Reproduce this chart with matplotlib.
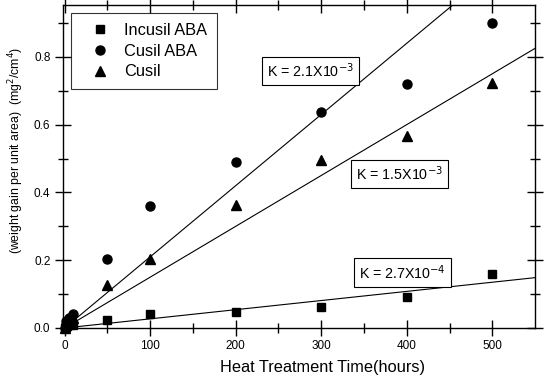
import matplotlib
matplotlib.use("Agg")
import matplotlib.pyplot as plt
import numpy as np

plt.rcParams['font.family'] = ['Liberation Sans', 'DejaVu Sans']

# Data
times = [0, 1, 2, 5, 10, 50, 100, 200, 300, 400, 500]
incusil_aba = [0.0, 0.003, 0.005, 0.008, 0.01, 0.025, 0.04, 0.047, 0.062, 0.092, 0.158]
cusil_aba = [0.0, 0.01, 0.02, 0.03, 0.04, 0.203, 0.36, 0.49, 0.638, 0.719, 0.899]
cusil = [0.0, 0.008, 0.015, 0.022, 0.03, 0.126, 0.205, 0.362, 0.495, 0.566, 0.722]
series_names = ["Incusil ABA", "Cusil ABA", "Cusil"]
rate_constants = [2.7e-4, 2.1e-3, 1.5e-3]
rate_labels = ["K = 2.7X10$^{-4}$", "K = 2.1X10$^{-3}$", "K = 1.5X10$^{-3}$"]
label_pos = [(395, 0.163), (287, 0.758), (391, 0.454)]

fig = plt.figure(figsize=(5.44, 3.78), dpi=100)
ax = fig.add_axes([0.1158, 0.1323, 0.8677, 0.8545])

markers = ['s', 'o', '^']
sizes = [6, 6.5, 6.5]
for vals, name, m, ms in zip([incusil_aba, cusil_aba, cusil], series_names, markers, sizes):
    ax.plot(times, vals, linestyle='none', marker=m, color='black', markersize=ms,
            label=name, clip_on=False, zorder=3)

t_fit = np.array([0, 560])
for k in rate_constants:
    ax.plot(t_fit, k * t_fit, color='black', linewidth=0.8, zorder=2)

for txt, (x, y) in zip(rate_labels, label_pos):
    ax.text(x, y, txt, ha='center', va='center', fontsize=10.3,
            bbox=dict(boxstyle='square,pad=0.35', facecolor='white', edgecolor='black', linewidth=0.8))

ax.set_xlim(-2, 550)
ax.set_ylim(0, 0.953)
ax.set_xticks([0, 100, 200, 300, 400, 500])
ax.set_xticks([50, 150, 250, 350, 450], minor=True)
ax.set_yticks([0.0, 0.2, 0.4, 0.6, 0.8])
ax.set_yticks([0.1, 0.3, 0.5, 0.7, 0.9], minor=True)
ax.set_yticklabels(["0.0", "0.2", "0.4", "0.6", "0.8"])

ax.tick_params(which='major', direction='inout', length=11, width=1, labelsize=8.5,
               top=True, right=True)
ax.tick_params(which='minor', direction='inout', length=7, width=1, top=True, right=True)
for s in ax.spines.values():
    s.set_linewidth(1.0)

ax.set_xlabel("Heat Treatment Time(hours)", fontsize=11.8)
ax.xaxis.set_label_coords(0.55, -0.098)
ax.set_ylabel("(weight gain per unit area)  (mg$^2$/cm$^4$)", fontsize=8.8)
ax.yaxis.set_label_coords(-0.078, 0.551)

leg = ax.legend(loc='upper left', fontsize=11.8, frameon=True, fancybox=False,
                edgecolor='black', borderaxespad=0.5, handletextpad=0.3,
                handlelength=2.34, borderpad=0.6, labelspacing=0.35, markerscale=1.0)
leg.get_frame().set_linewidth(0.8)

fig.savefig("out.png", dpi=100)
